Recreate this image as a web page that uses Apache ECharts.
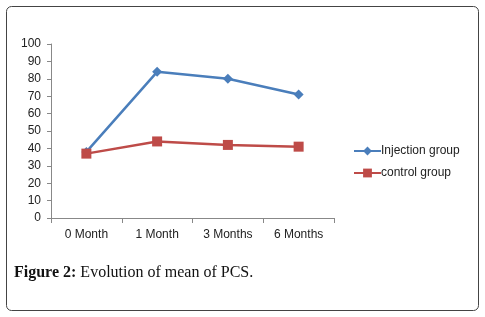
<!DOCTYPE html>
<html><head><meta charset="utf-8">
<script src="https://cdn.jsdelivr.net/npm/echarts@6/dist/echarts.min.js"></script>
<style>html,body{margin:0;padding:0;background:#fff}#c{width:485px;height:317px}</style>
</head><body><div id="c"></div>
<script>
const categories = ['0 Month', '1 Month', '3 Months', '6 Months'];
const injectionGroup = [38, 84, 80, 71];
const controlGroup = [37, 44, 42, 41];
const yTicks = [0, 10, 20, 30, 40, 50, 60, 70, 80, 90, 100];

const chart = echarts.init(document.getElementById('c'), null, {renderer: 'canvas'});
const labelFont = {fontFamily: 'Liberation Sans', fontSize: 12, color: '#222'};
chart.setOption({
  animation: false,
  backgroundColor: '#fff',
  grid: {left: 51, top: 44, right: 151, bottom: 99},
  xAxis: {
    type: 'category', data: categories, boundaryGap: true,
    axisLine: {lineStyle: {color: '#888', width: 1}},
    axisTick: {show: true, length: 5, lineStyle: {color: '#888'}},
    axisLabel: Object.assign({margin: 11}, labelFont)
  },
  yAxis: {
    type: 'value', min: yTicks[0], max: yTicks[yTicks.length - 1], interval: 10,
    axisLine: {show: true, lineStyle: {color: '#888', width: 1}},
    axisTick: {show: true, length: 4, lineStyle: {color: '#888'}},
    splitLine: {show: false},
    axisLabel: Object.assign({margin: 10}, labelFont)
  },
  legend: {
    orient: 'vertical', left: 353, top: 145, itemGap: 10, padding: 0,
    itemWidth: 27, itemHeight: 11,
    textStyle: {fontFamily: 'Liberation Sans', fontSize: 12, color: '#222', padding: [0, 0, 0, -5]},
    data: ['Injection group', 'control group']
  },
  series: [
    {name: 'Injection group', type: 'line', data: injectionGroup,
     symbol: 'diamond', symbolSize: 10,
     lineStyle: {color: '#4A7EBB', width: 2.5}, itemStyle: {color: '#4A7EBB'}},
    {name: 'control group', type: 'line', data: controlGroup,
     symbol: 'rect', symbolSize: 10,
     lineStyle: {color: '#BE4B48', width: 2.5}, itemStyle: {color: '#BE4B48'}}
  ],
  graphic: [
    {type: 'rect', shape: {x: 6.5, y: 6.5, width: 472, height: 304, r: 5},
     style: {fill: 'none', stroke: '#444', lineWidth: 1}, silent: true},
    {type: 'text', left: 14, top: 265,
     style: {text: '{b|Figure 2:} Evolution of mean of PCS.',
       font: '16px "Liberation Serif"', fill: '#111',
       rich: {b: {fontFamily: 'Liberation Serif', fontSize: 16, fontWeight: 'bold', fill: '#111'}}}}
  ]
});
</script></body></html>
